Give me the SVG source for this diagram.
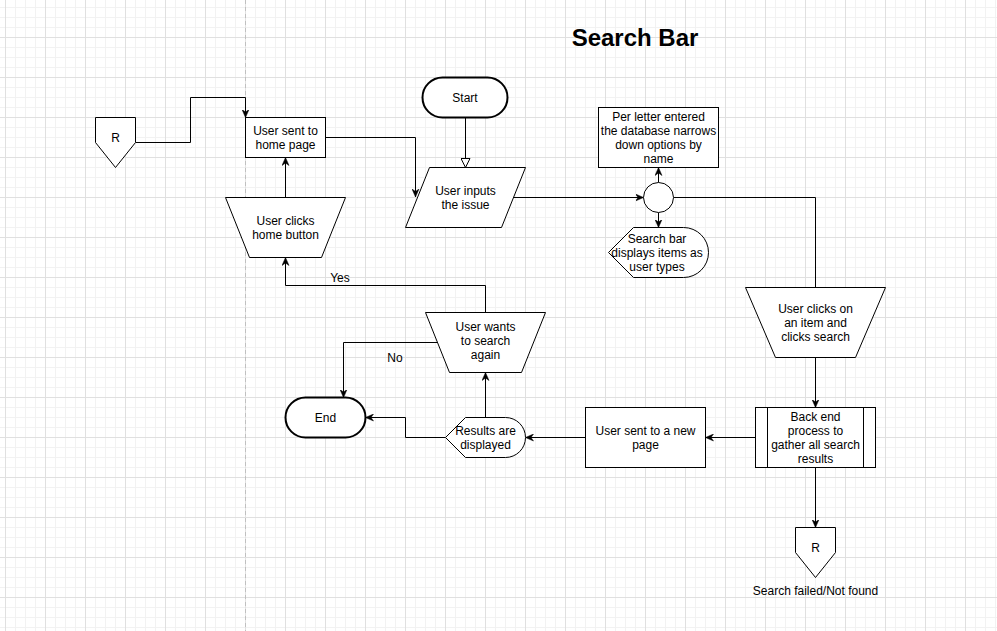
<svg xmlns="http://www.w3.org/2000/svg" width="997" height="631" viewBox="0 0 997 631">
<style>
.n{fill:#fff;stroke:#000;stroke-width:1}
.term{fill:#fff;stroke:#000;stroke-width:2}
.t{font-family:"Liberation Sans",Arial,Helvetica,sans-serif;font-size:12px;text-anchor:middle;fill:#000}
.e{fill:none;stroke:#000;stroke-width:1}
.a{marker-end:url(#arr)}
</style>
<defs>
<pattern id="minor" x="5" y="37" width="10" height="10" patternUnits="userSpaceOnUse">
<path d="M0.5,0V10M0,0.5H10" stroke="#f2f2f2" stroke-width="1" fill="none"/>
</pattern>
<pattern id="major" x="5" y="37" width="40" height="40" patternUnits="userSpaceOnUse">
<path d="M0.5,0V40M0,0.5H40" stroke="#e0e0e0" stroke-width="1" fill="none"/>
</pattern>
<marker id="arr" viewBox="0 0 8 8" refX="8" refY="4" markerWidth="8" markerHeight="8" markerUnits="userSpaceOnUse" orient="auto">
<path d="M0,0.5L8,4L0,7.5L2.5,4Z" fill="#000" stroke="#000" stroke-width="0.5"/>
</marker>
<marker id="open" viewBox="0 0 10 10" refX="9.5" refY="5" markerWidth="10" markerHeight="10" markerUnits="userSpaceOnUse" orient="auto">
<path d="M0.5,0.5L9.5,5L0.5,9.5Z" fill="#fff" stroke="#000" stroke-width="1"/>
</marker>
</defs>
<rect width="997" height="631" fill="#fff"/>
<rect width="997" height="631" fill="url(#minor)"/>
<rect width="997" height="631" fill="url(#major)"/>
<line x1="245.5" y1="0" x2="245.5" y2="631" stroke="#c0c0c0" stroke-width="1" stroke-dasharray="4 3"/>

<text x="635" y="46" font-family="'Liberation Sans',Arial,Helvetica,sans-serif" font-size="24" font-weight="bold" text-anchor="middle" fill="#000">Search Bar</text>

<g id="connectors">
<path class="e a" d="M135.5,142.5H190.5V97.5H245.5V117.5"/>
<path class="e a" d="M325.5,137.5H415.5V197"/>
<path class="e" d="M465.5,117.5V167.5" marker-end="url(#open)"/>
<path class="e a" d="M513.5,197.5H643.5"/>
<path class="e a" d="M658.5,182.5V167.5"/>
<path class="e a" d="M658.5,212.5V227.5"/>
<path class="e" d="M673.5,197.5H815.5V287.5"/>
<path class="e a" d="M815.5,357.5V407.5"/>
<path class="e a" d="M755.5,437.5H705.5"/>
<path class="e a" d="M585.5,437.5H525.5"/>
<path class="e a" d="M485.5,417.5V372.5"/>
<path class="e a" d="M485.5,312.5V285.5H285.5V257.5"/>
<text class="t" x="340" y="281.5">Yes</text>
<path class="e a" d="M437.5,342.5H343.5V397.5"/>
<text class="t" x="395" y="361.5">No</text>
<path class="e a" d="M445.5,437.5H405.5V417.5H365.5"/>
<path class="e a" d="M285.5,197.5V157.5"/>
<path class="e a" d="M815.5,467.5V527.5"/>
</g>

<g id="r-top">
<path class="n" d="M95.5,117.5H135.5V142.5L115.5,167.5L95.5,142.5Z"/>
<text class="t" x="115.5" y="141.5">R</text>
</g>

<g id="home-page">
<rect class="n" x="245.5" y="117.5" width="80" height="40"/>
<text class="t" x="285.5" y="134.5">User sent to</text>
<text class="t" x="285.5" y="148.5">home page</text>
</g>

<g id="home-button">
<path class="n" d="M225.5,197.5H345.5L321.5,257.5H249.5Z"/>
<text class="t" x="285.5" y="224.5">User clicks</text>
<text class="t" x="285.5" y="238.5">home button</text>
</g>

<g id="start">
<rect class="term" x="422.5" y="77.5" width="85" height="40" rx="20" ry="20"/>
<text class="t" x="465" y="101.5">Start</text>
</g>

<g id="input">
<path class="n" d="M429.5,167.5H525.5L501.5,227.5H405.5Z"/>
<text class="t" x="465.5" y="194.5">User inputs</text>
<text class="t" x="465.5" y="208.5">the issue</text>
</g>

<g id="junction">
<circle class="n" cx="658.5" cy="197.5" r="15"/>
</g>

<g id="per-letter">
<rect class="n" x="598.5" y="107.5" width="120" height="60"/>
<text class="t" x="658.5" y="120.5">Per letter entered</text>
<text class="t" x="658.5" y="134.5">the database narrows</text>
<text class="t" x="658.5" y="148.5">down options by</text>
<text class="t" x="658.5" y="162.5">name</text>
</g>

<g id="search-display">
<path class="n" d="M608.5,252.5L633.5,227.5H683.5A25,25 0 0 1 683.5,277.5H633.5Z"/>
<text class="t" x="657" y="242.5">Search bar</text>
<text class="t" x="657" y="256.5">displays items as</text>
<text class="t" x="657" y="270.5">user types</text>
</g>

<g id="clicks-search">
<path class="n" d="M745.5,287.5H885.5L855.5,357.5H775.5Z"/>
<text class="t" x="815.5" y="313">User clicks on</text>
<text class="t" x="815.5" y="327">an item and</text>
<text class="t" x="815.5" y="341">clicks search</text>
</g>

<g id="back-end">
<rect class="n" x="755.5" y="407.5" width="120" height="60"/>
<path class="e" d="M767.5,407.5V467.5M863.5,407.5V467.5"/>
<text class="t" x="815.5" y="420.5">Back end</text>
<text class="t" x="815.5" y="434.5">process to</text>
<text class="t" x="815.5" y="448.5">gather all search</text>
<text class="t" x="815.5" y="462.5">results</text>
</g>

<g id="new-page">
<rect class="n" x="585.5" y="407.5" width="120" height="60"/>
<text class="t" x="645.5" y="434.5">User sent to a new</text>
<text class="t" x="645.5" y="448.5">page</text>
</g>

<g id="results">
<path class="n" d="M445.5,437.5L465.5,417.5H505.5A20,20 0 0 1 505.5,457.5H465.5Z"/>
<text class="t" x="485.5" y="434.5">Results are</text>
<text class="t" x="485.5" y="448.5">displayed</text>
</g>

<g id="search-again">
<path class="n" d="M425.5,312.5H545.5L521.5,372.5H449.5Z"/>
<text class="t" x="485.5" y="330.5">User wants</text>
<text class="t" x="485.5" y="344.5">to search</text>
<text class="t" x="485.5" y="358.5">again</text>
</g>

<g id="end">
<rect class="term" x="285.5" y="397.5" width="80" height="40" rx="20" ry="20"/>
<text class="t" x="325.5" y="421.5">End</text>
</g>

<g id="r-bottom">
<path class="n" d="M795.5,527.5H835.5V552.5L815.5,577.5L795.5,552.5Z"/>
<text class="t" x="815.5" y="551.5">R</text>
<text class="t" x="815.5" y="595">Search failed/Not found</text>
</g>
</svg>
